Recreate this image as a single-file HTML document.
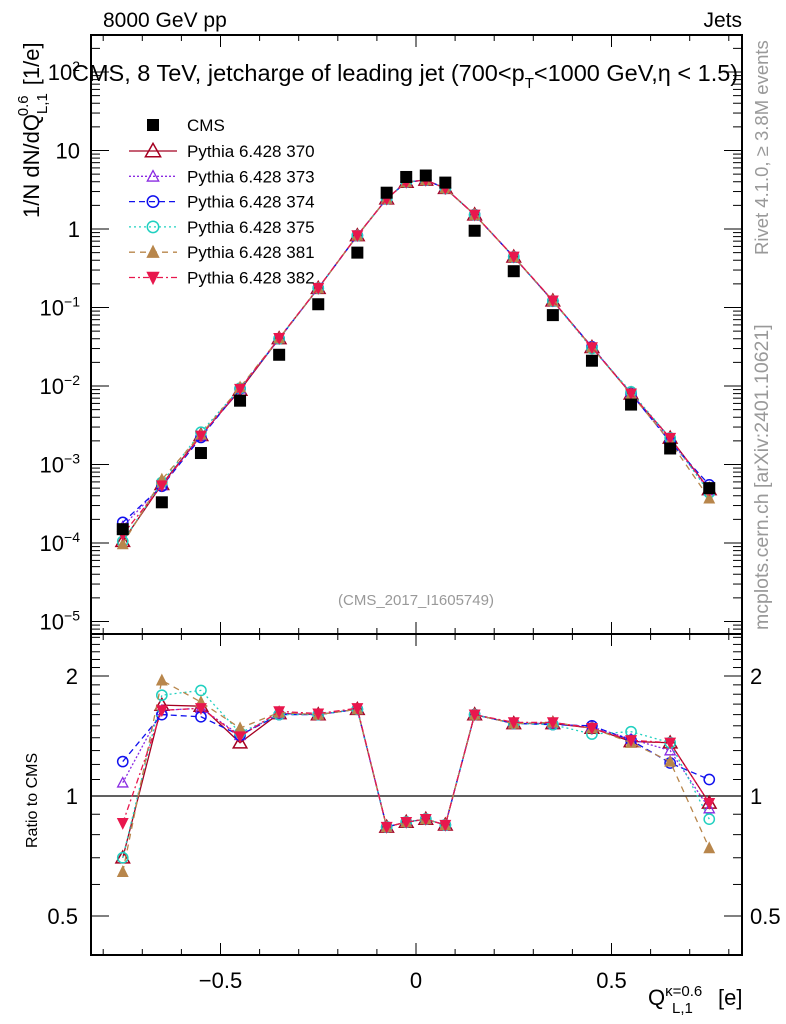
<!DOCTYPE html>
<html><head><meta charset="utf-8"><style>
body{margin:0;background:#fff;}
svg{display:block;font-family:"Liberation Sans",sans-serif;}
</style></head><body>
<svg id="c" width="786" height="1024" xmlns="http://www.w3.org/2000/svg"></svg>
<script>
const xCenters=[-0.75,-0.65,-0.55,-0.45,-0.35,-0.25,-0.15,-0.075,-0.025,0.025,0.075,0.15,0.25,0.35,0.45,0.55,0.65,0.75];
const cmsValues=[1.5e-4,3.3e-4,1.4e-3,6.5e-3,0.025,0.11,0.5,2.9,4.6,4.8,3.9,0.95,0.29,0.08,0.021,0.0058,0.0016,5.0e-4];
const ratio370=[0.70,1.69,1.68,1.36,1.61,1.6,1.65,0.836,0.86,0.875,0.846,1.6,1.52,1.52,1.48,1.37,1.36,0.96];
const ratio373=[1.08,1.64,1.66,1.42,1.61,1.6,1.65,0.836,0.86,0.875,0.846,1.6,1.52,1.52,1.49,1.39,1.3,0.93];
const ratio374=[1.22,1.6,1.58,1.42,1.6,1.6,1.65,0.836,0.86,0.875,0.846,1.6,1.52,1.51,1.5,1.38,1.21,1.1];
const ratio375=[0.70,1.79,1.84,1.44,1.6,1.6,1.65,0.836,0.86,0.875,0.846,1.6,1.52,1.51,1.43,1.45,1.36,0.875];
const ratio381=[0.645,1.95,1.72,1.48,1.62,1.6,1.65,0.836,0.86,0.875,0.846,1.6,1.52,1.53,1.48,1.36,1.22,0.74];
const ratio382=[0.855,1.64,1.66,1.41,1.63,1.61,1.66,0.836,0.86,0.875,0.846,1.6,1.53,1.53,1.48,1.38,1.36,0.96];
const seriesNames=["Pythia 6.428 370","Pythia 6.428 373","Pythia 6.428 374","Pythia 6.428 375","Pythia 6.428 381","Pythia 6.428 382"];
const mainTickLabels=["10^2","10","1","10^-1","10^-2","10^-3","10^-4","10^-5"];
const ratioTickLabels=["2","1","0.5"];

const NS="http://www.w3.org/2000/svg";
const svg=document.getElementById('c');
function el(tag,attrs,parent){const e=document.createElementNS(NS,tag);for(const k in attrs)e.setAttribute(k,attrs[k]);(parent||svg).appendChild(e);return e;}
const L=91,R=742,T=35,MB=634,RB=955;
const X=v=>416+v*391;
const YM=v=>229-Math.log10(v)*78.5;
const YR=v=>796-Math.log10(v)*398.7;

let f1=el('rect',{x:L,y:T,width:R-L,height:MB-T,fill:'none',stroke:'#000','stroke-width':2});

let f2=el('rect',{x:L,y:MB,width:R-L,height:RB-MB,fill:'none',stroke:'#000','stroke-width':2});


const xt=el('g',{stroke:'#000','stroke-width':1});

for(let i=-8;i<=8;i++){const v=i/10,x=X(v),maj=(i%5===0),len=maj?12:6;
 [[T,1],[MB,-1],[MB,1],[RB,-1]].forEach(([y,d])=>el('line',{x1:x,x2:x,y1:y,y2:y+d*len},xt));}
[-0.5,0,0.5].forEach(v=>{const t=el('text',{x:X(v),y:988,'font-size':22,'text-anchor':'middle'});t.textContent=(v<0?'\u22120.5':(v===0?'0':'0.5'));
 });

const yt=el('g',{stroke:'#000','stroke-width':1});

for(let d=-6;d<=2;d++){for(let m=1;m<10;m++){const v=m*Math.pow(10,d),y=YM(v);if(y<T||y>MB)continue;const len=m===1?18:9;
 el('line',{x1:L,x2:L+len,y1:y,y2:y},yt);el('line',{x1:R,x2:R-len,y1:y,y2:y},yt);}}
mainTickLabels.forEach((s,i)=>{const d=2-i,y=YM(Math.pow(10,d))+8;const t=el('text',{x:80,y:y,'font-size':22,'text-anchor':'end'});
 
 if(s.indexOf('^')>=0){const p=s.split('^');const a=el('tspan',{},t);a.textContent=p[0];const b=el('tspan',{dy:-9,'font-size':14},t);b.textContent=p[1].replace('-','\u2212');}
 else t.textContent=s;});

const rt=el('g',{stroke:'#000','stroke-width':1});

for(let k=4;k<=25;k++){const v=k/10;const y=YR(v);if(y<MB||y>RB)continue;const maj=(k===5||k===10||k===20);const len=maj?18:9;
 el('line',{x1:L,x2:L+len,y1:y,y2:y},rt);el('line',{x1:R,x2:R-len,y1:y,y2:y},rt);}
ratioTickLabels.forEach(s=>{const y=YR(parseFloat(s))+8;
 const t=el('text',{x:78,y:y,'font-size':22,'text-anchor':'end'});t.textContent=s;
 const t2=el('text',{x:750,y:y,'font-size':22});t2.textContent=s;});
let ul=el('line',{x1:L,x2:R,y1:YR(1),y2:YR(1),stroke:'#000','stroke-width':1.2});

const styles=[
 {c:'#a50021',dash:'',m:'tri-open',r:ratio370},
 {c:'#8a2be2',dash:'2,2',m:'tri-open-s',r:ratio373},
 {c:'#1010ee',dash:'6,4',m:'circ',r:ratio374},
 {c:'#20d0c0',dash:'2,3',m:'circ',r:ratio375},
 {c:'#b8864b',dash:'6,5',m:'tri-fill',r:ratio381},
 {c:'#e8174d',dash:'6,3,2,3',m:'tri-down',r:ratio382}];
function marker(g,type,x,y,c,s){s=s||1;
 if(type==='tri-open')el('polygon',{points:`${x},${y-8*s} ${x-8*s},${y+6*s} ${x+8*s},${y+6*s}`,fill:'none',stroke:c,'stroke-width':1.5},g);
 else if(type==='tri-open-s')el('polygon',{points:`${x},${y-6*s} ${x-6*s},${y+5*s} ${x+6*s},${y+5*s}`,fill:'none',stroke:c,'stroke-width':1.3},g);
 else if(type==='circ')el('circle',{cx:x,cy:y,r:6*s,fill:'none',stroke:c,'stroke-width':1.5},g);
 else if(type==='tri-fill')el('polygon',{points:`${x},${y-8*s} ${x-7*s},${y+6*s} ${x+7*s},${y+6*s}`,fill:c},g);
 else if(type==='tri-down')el('polygon',{points:`${x},${y+8*s} ${x-7*s},${y-6*s} ${x+7*s},${y-6*s}`,fill:c},g);}

styles.forEach((st,si)=>{
 const g=el('g',{});
 const mp=xCenters.map((x,i)=>[X(x),YM(cmsValues[i]*st.r[i])]);
 const rp=xCenters.map((x,i)=>[X(x),YR(st.r[i])]);
 el('polyline',{points:mp.map(p=>p.join(',')).join(' '),fill:'none',stroke:st.c,'stroke-width':1.3,'stroke-dasharray':st.dash},g);
 el('polyline',{points:rp.map(p=>p.join(',')).join(' '),fill:'none',stroke:st.c,'stroke-width':1.3,'stroke-dasharray':st.dash},g);
 mp.forEach(p=>marker(g,st.m,p[0],p[1],st.c,0.85));
 rp.forEach(p=>marker(g,st.m,p[0],p[1],st.c,0.85));
});
const cg=el('g',{});
xCenters.forEach((x,i)=>{el('rect',{x:X(x)-6,y:YM(cmsValues[i])-6,width:12,height:12,fill:'#000'},cg);});

const lg=el('g',{});
el('rect',{x:147,y:119,width:12,height:12,fill:'#000'},lg);
let lt=el('text',{x:187,y:131,'font-size':17},lg);lt.textContent='CMS';
styles.forEach((st,i)=>{const y=151+i*25.3;
 el('line',{x1:129,x2:177,y1:y,y2:y,stroke:st.c,'stroke-width':1.3,'stroke-dasharray':st.dash},lg);
 marker(lg,st.m,153,y,st.c,0.95);
 const t=el('text',{x:187,y:y+6,'font-size':17},lg);t.textContent=seriesNames[i];});

function txt(s,attrs,name){const t=el('text',attrs);t.textContent=s;return t;}
txt('8000 GeV pp',{x:103,y:27,'font-size':21},'collision-label');
txt('Jets',{x:742,y:27,'font-size':21,'text-anchor':'end'},'process-label');
const ti=el('text',{x:72,y:81,'font-size':23.5});
ti.innerHTML='CMS, 8 TeV, jetcharge of leading jet (700&lt;p<tspan dy="7" font-size="15">T</tspan><tspan dy="-7">&lt;1000 GeV,η &lt; 1.5)</tspan>';
txt('(CMS_2017_I1605749)',{x:416,y:605,'font-size':15,fill:'#999','text-anchor':'middle'},'analysis-id');
const ya=el('text',{transform:'translate(39,218) rotate(-90)','font-size':22});
ya.innerHTML='1/N dN/dQ<tspan dy="8" font-size="15">L,1</tspan><tspan dx="-23" dy="-19" font-size="15">0.6</tspan><tspan dx="4" dy="11"> [1/e]</tspan>';
txt('Ratio to CMS',{transform:'translate(37,848) rotate(-90)','font-size':16},'ratio-axis-title');
const xa=el('text',{x:648,y:1005,'font-size':22});
xa.innerHTML='Q<tspan dy="-9" font-size="15">κ=0.6</tspan><tspan x="672" dy="17" font-size="15">L,1</tspan><tspan x="718" dy="-8">[e]</tspan>';
txt('Rivet 4.1.0, \u2265 3.8M events',{transform:'translate(768,255) rotate(-90)','font-size':18.5,fill:'#999'},'rivet-version-label');
txt('mcplots.cern.ch [arXiv:2401.10621]',{transform:'translate(768,630) rotate(-90)','font-size':19.5,fill:'#999'},'mcplots-label');
</script>
</body></html>
